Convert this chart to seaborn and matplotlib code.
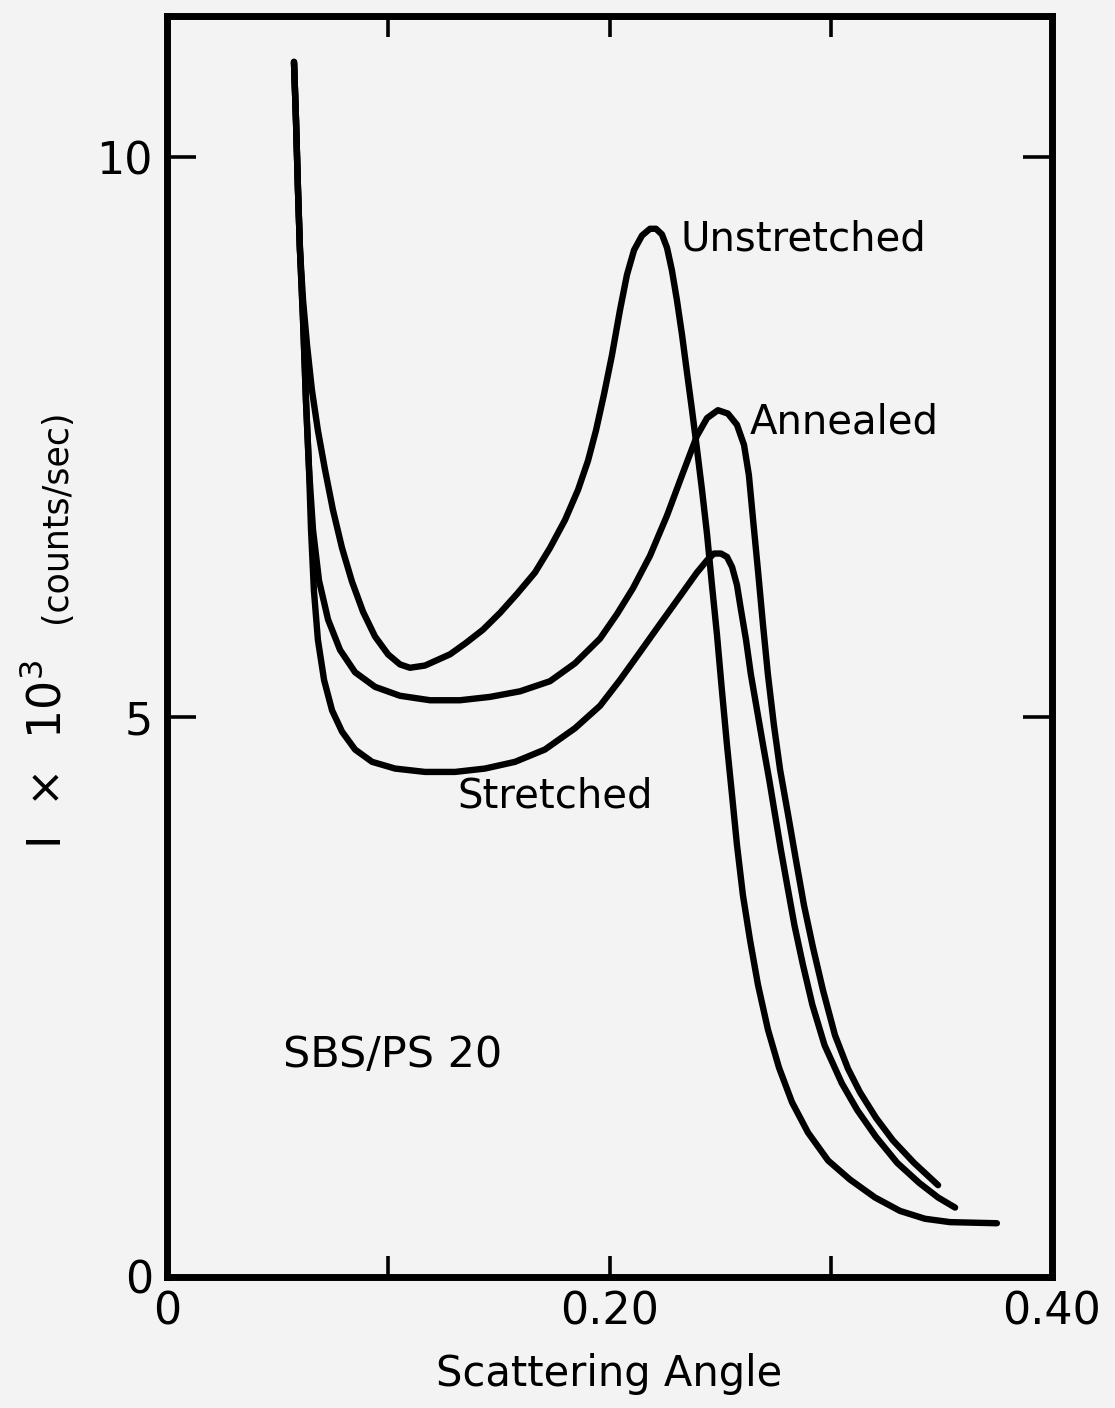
import matplotlib
matplotlib.use('Agg')
import matplotlib.pyplot as plt
import seaborn as sns
import pandas as pd

# 数据
unstretched_x = [0.0574, 0.0583, 0.0592, 0.0601, 0.0615, 0.0633, 0.0655, 0.0682, 0.0714,
                 0.0750, 0.0791, 0.0836, 0.0886, 0.0940, 0.0999, 0.1053, 0.1098, 0.1166,
                 0.1279, 0.1350, 0.1428, 0.1505, 0.1582, 0.1663, 0.1731, 0.1799, 0.1858,
                 0.1903, 0.1939, 0.1975, 0.2011, 0.2047, 0.2079, 0.2111, 0.2147, 0.2183,
                 0.2210, 0.2237, 0.2260, 0.2282, 0.2305, 0.2328, 0.2350, 0.2373, 0.2395,
                 0.2418, 0.2441, 0.2463, 0.2486, 0.2508, 0.2531, 0.2554, 0.2576, 0.2603,
                 0.2635, 0.2671, 0.2716, 0.2766, 0.2825, 0.2897, 0.2988, 0.3087, 0.3200,
                 0.3313, 0.3426, 0.3539, 0.3751]
unstretched_y = [10.85, 10.33, 9.71, 9.17, 8.72, 8.32, 7.92, 7.56, 7.21,
                 6.85, 6.51, 6.21, 5.94, 5.72, 5.56, 5.47, 5.44, 5.46,
                 5.56, 5.66, 5.78, 5.93, 6.10, 6.29, 6.51, 6.76, 7.03,
                 7.29, 7.56, 7.88, 8.23, 8.63, 8.95, 9.17, 9.30, 9.36,
                 9.36, 9.31, 9.19, 8.99, 8.72, 8.41, 8.08, 7.74, 7.40,
                 7.03, 6.63, 6.18, 5.73, 5.24, 4.75, 4.30, 3.86, 3.41,
                 3.01, 2.61, 2.21, 1.87, 1.56, 1.29, 1.04, 0.87, 0.71,
                 0.59, 0.52, 0.49, 0.48]

annealed_x = [0.0574, 0.0583, 0.0592, 0.0601, 0.0615, 0.0628, 0.0642, 0.0660, 0.0687,
              0.0728, 0.0782, 0.0850, 0.0940, 0.1053, 0.1189, 0.1324, 0.1460, 0.1596,
              0.1731, 0.1844, 0.1957, 0.2034, 0.2106, 0.2183, 0.2260, 0.2328, 0.2395,
              0.2441, 0.2490, 0.2535, 0.2576, 0.2608, 0.2630, 0.2649, 0.2671, 0.2694,
              0.2716, 0.2743, 0.2771, 0.2807, 0.2843, 0.2879, 0.2920, 0.2965, 0.3019,
              0.3078, 0.3132, 0.3205, 0.3281, 0.3376, 0.3485]
annealed_y = [10.85, 10.33, 9.71, 9.17, 8.54, 7.83, 7.21, 6.67, 6.22,
              5.87, 5.60, 5.40, 5.27, 5.19, 5.15, 5.15, 5.18, 5.23,
              5.32, 5.48, 5.70, 5.92, 6.15, 6.44, 6.80, 7.16, 7.51,
              7.67, 7.74, 7.71, 7.61, 7.43, 7.16, 6.76, 6.31, 5.82,
              5.38, 4.93, 4.53, 4.13, 3.72, 3.32, 2.94, 2.56, 2.16,
              1.86, 1.65, 1.42, 1.22, 1.02, 0.82]

stretched_x = [0.0574, 0.0583, 0.0592, 0.0601, 0.0615, 0.0628, 0.0642, 0.0651, 0.0664,
               0.0682, 0.0710, 0.0746, 0.0791, 0.0850, 0.0927, 0.1031, 0.1166, 0.1302,
               0.1437, 0.1573, 0.1708, 0.1844, 0.1957, 0.2047, 0.2138, 0.2228, 0.2319,
               0.2395, 0.2441, 0.2472, 0.2504, 0.2531, 0.2554, 0.2576, 0.2594, 0.2617,
               0.2639, 0.2667, 0.2694, 0.2722, 0.2748, 0.2775, 0.2803, 0.2836, 0.2874,
               0.2917, 0.2972, 0.3050, 0.3120, 0.3205, 0.3300, 0.3400, 0.3485, 0.3562]
stretched_y = [10.85, 10.33, 9.71, 9.17, 8.54, 7.83, 7.21, 6.67, 6.13,
               5.69, 5.33, 5.06, 4.87, 4.71, 4.60, 4.54, 4.51, 4.51,
               4.54, 4.60, 4.71, 4.90, 5.10, 5.33, 5.58, 5.83, 6.08,
               6.29, 6.40, 6.46, 6.46, 6.43, 6.34, 6.18, 5.96, 5.69,
               5.38, 5.06, 4.75, 4.44, 4.13, 3.81, 3.50, 3.14, 2.79,
               2.43, 2.07, 1.73, 1.49, 1.25, 1.02, 0.84, 0.71, 0.62]

x_ticks = [0, 0.2, 0.4]
x_tick_labels = ['0', '0.20', '0.40']
x_minor_ticks = [0.1, 0.3]
y_ticks = [0, 5, 10]
y_tick_labels = ['0', '5', '10']

# 组装长表
frames = []
for name, xs, ys in [('Unstretched', unstretched_x, unstretched_y),
                     ('Annealed', annealed_x, annealed_y),
                     ('Stretched', stretched_x, stretched_y)]:
    frames.append(pd.DataFrame({'angle': xs, 'intensity': ys, 'sample': name}))
df = pd.concat(frames, ignore_index=True)

sns.set_style('white')
plt.rcParams['font.family'] = ['DejaVu Sans']
plt.rcParams['text.color'] = 'black'
plt.rcParams['axes.labelcolor'] = 'black'
plt.rcParams['xtick.color'] = 'black'
plt.rcParams['ytick.color'] = 'black'
bg = '#f3f3f3'

fig = plt.figure(figsize=(11.15, 14.08), dpi=100, facecolor=bg)
ax = fig.add_axes([167 / 1115, 1 - 1277 / 1408, (1052 - 167) / 1115, (1277 - 16) / 1408])
ax.set_facecolor(bg)

sns.lineplot(data=df, x='angle', y='intensity', hue='sample', units='sample',
             estimator=None, sort=False, palette=['black'] * 3, legend=False,
             linewidth=4.6, ax=ax)
for line in ax.lines:
    line.set_solid_joinstyle('round')
    line.set_solid_capstyle('round')

ax.set_xlim(0, 0.40)
ax.set_ylim(0, 11.26)

ax.set_xticks(x_ticks)
ax.set_xticklabels(x_tick_labels)
ax.set_xticks(x_minor_ticks, minor=True)
ax.set_yticks(y_ticks)
ax.set_yticklabels(y_tick_labels)

ax.tick_params(which='both', direction='in', width=2.6, bottom=True, top=True,
               left=True, right=True, color='black')
ax.tick_params(axis='x', which='both', length=15)
ax.tick_params(axis='y', which='major', length=21)
ax.tick_params(which='major', labelsize=32, pad=10, labelcolor='black')
for sp in ax.spines.values():
    sp.set_linewidth(5)
    sp.set_color('black')

ax.set_xlabel('Scattering Angle', fontsize=30, labelpad=14, color='black')
ax.set_ylabel('')

# 纵轴标题 (两段字号不同)
fig.text(0.043, 1 - 755 / 1408, 'I  ×  10$^3$', rotation=90, fontsize=33,
         ha='center', va='center', color='black')
fig.text(0.050, 1 - 516 / 1408, '(counts/sec)', rotation=90, fontsize=25,
         ha='center', va='center', color='black')

# 曲线标注
ax.text(0.2319, 9.26, 'Unstretched', fontsize=29, ha='left', va='center', color='black')
ax.text(0.2635, 7.63, 'Annealed', fontsize=29, ha='left', va='center', color='black')
ax.text(0.1311, 4.29, 'Stretched', fontsize=29, ha='left', va='center', color='black')
ax.text(0.0524, 1.98, 'SBS/PS 20', fontsize=31, ha='left', va='center', color='black')

plt.savefig('out.png', dpi=100, facecolor=bg)
plt.close()
